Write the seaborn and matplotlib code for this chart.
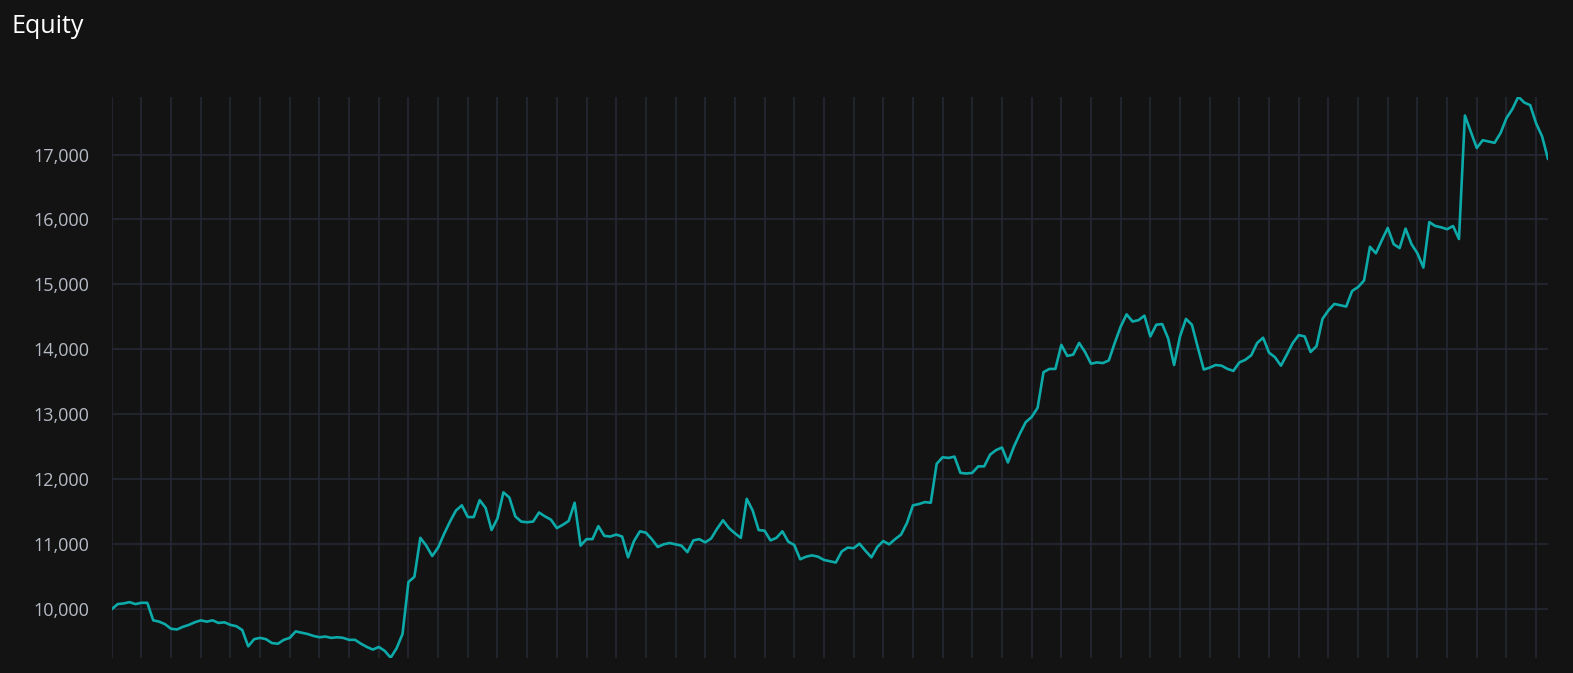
import matplotlib
matplotlib.use("Agg")
import matplotlib.pyplot as plt
import seaborn as sns
import numpy as np
import pandas as pd
from matplotlib.ticker import FuncFormatter

# ---- data ----
equity = [
    10000, 10080, 10090, 10110, 10080, 10100, 10100, 9830, 9810, 9770,
    9700, 9690, 9730, 9760, 9800, 9830, 9810, 9830, 9790, 9800,
    9760, 9740, 9680, 9430, 9540, 9560, 9540, 9480, 9470, 9530,
    9560, 9660, 9640, 9620, 9590, 9570, 9580, 9560, 9570, 9560,
    9530, 9530, 9470, 9420, 9380, 9420, 9360, 9255, 9400, 9620,
    10420, 10500, 11100, 10980, 10820, 10950, 11160, 11350, 11520, 11600,
    11420, 11420, 11680, 11560, 11220, 11400, 11800, 11720, 11430, 11350,
    11340, 11350, 11490, 11430, 11380, 11250, 11300, 11360, 11640, 10980,
    11080, 11080, 11280, 11130, 11120, 11150, 11120, 10800, 11050, 11200,
    11180, 11080, 10960, 11000, 11020, 11000, 10980, 10880, 11060, 11080,
    11030, 11090, 11240, 11370, 11250, 11170, 11100, 11700, 11520, 11220,
    11210, 11060, 11100, 11200, 11040, 10990, 10770, 10810, 10830, 10810,
    10760, 10740, 10720, 10890, 10950, 10940, 11010, 10900, 10800, 10960,
    11050, 11000, 11080, 11150, 11330, 11600, 11620, 11650, 11640, 12240,
    12340, 12330, 12350, 12100, 12090, 12100, 12200, 12200, 12380, 12450,
    12490, 12260, 12500, 12700, 12880, 12960, 13100, 13650, 13700, 13700,
    14070, 13900, 13920, 14100, 13960, 13780, 13800, 13790, 13830, 14100,
    14350, 14540, 14430, 14450, 14520, 14200, 14380, 14390, 14170, 13760,
    14200, 14470, 14380, 14030, 13690, 13720, 13760, 13750, 13700, 13670,
    13800, 13840, 13910, 14100, 14180, 13950, 13880, 13750, 13920, 14100,
    14220, 14200, 13960, 14050, 14470, 14600, 14700, 14680, 14660, 14900,
    14960, 15060, 15580, 15480, 15680, 15870, 15620, 15560, 15860, 15620,
    15480, 15260, 15960, 15900, 15880, 15850, 15900, 15700, 17600, 17350,
    17100, 17220, 17200, 17180, 17330, 17560, 17700, 17890, 17800, 17760,
    17480, 17280, 16930,
]
y_ticks = [10000, 11000, 12000, 13000, 14000, 15000, 16000, 17000]
title = "Equity"

# ---- style ----
BG = "#131313"
GRID = "#262935"
LINE = "#0caaa9"
TICK = "#b6bac4"

sns.set_theme(style="dark")
plt.rcParams['font.family'] = ['Open Sans', 'DejaVu Sans']

W, H = 1573, 673
fig = plt.figure(figsize=(W / 100, H / 100), dpi=100, facecolor=BG)
left, right, top, bottom = 111.7, 1548.0, 96.7, 657.7
ax = fig.add_axes([left / W, 1 - bottom / H, (right - left) / W, (bottom - top) / H])
ax.set_facecolor(BG)

df = pd.DataFrame({"step": np.arange(len(equity)), "equity": equity})
ax.set_axisbelow(True)
sns.lineplot(data=df, x="step", y="equity", ax=ax, color=LINE, linewidth=1.9)

ax.set_xlim(0, len(equity) - 1)
ax.set_ylim(min(equity), max(equity))
ax.set_xticks(np.arange(0, len(equity), 5))
ax.set_xticklabels([])
ax.set_yticks(y_ticks)
ax.yaxis.set_major_formatter(FuncFormatter(lambda v, p: f"{int(v):,}"))
ax.grid(True, color=GRID, linewidth=1.1)
for s in ax.spines.values():
    s.set_visible(False)
ax.tick_params(axis='both', length=0)
ax.tick_params(axis='y', pad=16, labelsize=13, labelcolor=TICK)
ax.set_xlabel("")
ax.set_ylabel("")

fig.text(12 / W, 1 - 33 / H, title, color="white", fontsize=18, va="baseline", ha="left")

fig.savefig("out.png", dpi=100, facecolor=BG)
